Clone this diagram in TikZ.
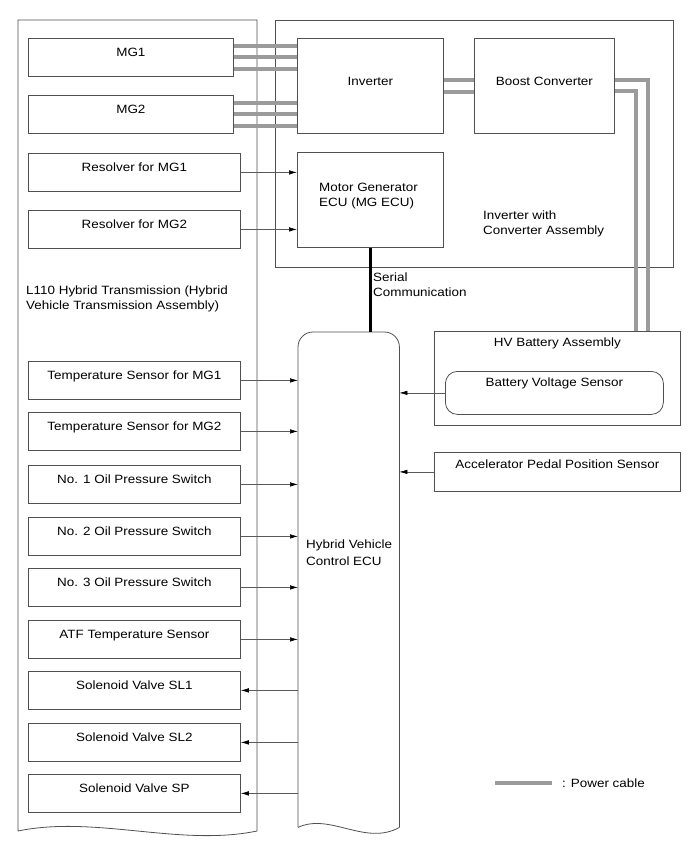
\documentclass[tikz,border=0pt]{standalone}
\usepackage{fontspec}
\setmainfont{Liberation Sans}[FakeStretch=1.12]
\usetikzlibrary{arrows.meta}

\definecolor{linegray}{HTML}{505050}
\definecolor{wiregray}{HTML}{5A5A5A}
\definecolor{cablegray}{HTML}{9B9B9B}

\tikzset{
  housing/.style={draw=linegray, line width=0.8pt},
  part/.style={housing, anchor=north west, inner sep=0pt, minimum height=38pt, text height=18.5pt, text depth=19.5pt},
  bigpart/.style={part, minimum height=95pt, text height=47pt, text depth=48pt},
  note/.style={anchor=north west, inner sep=0pt, align=left},
  sig/.style={draw=wiregray, line width=0.6pt, -{Latex[length=8pt, width=4.5pt, color=black]}},
  cable/.style={draw=cablegray, line width=4pt},
}

\begin{document}
\begin{tikzpicture}[x=1pt, y=-1pt, font=\fontsize{12}{14.5}\selectfont]
\useasboundingbox (0,0) rectangle (690,854);

% housings
\draw[housing] (18,831) -- (18,20) -- (257,20) -- (257,831) .. controls (180,847) and (95,815) .. (18,831);
\node (invassy) [housing, anchor=north west, inner sep=0pt, minimum width=398pt, minimum height=247pt] at (275,20) {};
\node (hvecu) [anchor=north west, inner sep=0pt, minimum width=101pt, minimum height=495pt] at (298,332) {};
\draw[housing, rounded corners=15pt] (hvecu.south west) -- (hvecu.north west) -- (hvecu.north east) -- (hvecu.south east);
\draw[housing] (hvecu.south west) .. controls +(32,-15) and +(-34,19) .. (hvecu.south east);

% transmission side
\node (mgone) [part, minimum width=205pt] at (28,38) {MG1};
\node (mgtwo) [part, minimum width=205pt] at (28,95) {MG2};
\node (resone) [part, minimum width=212pt] at (28,153) {Resolver for MG1};
\node (restwo) [part, minimum width=212pt] at (28,210) {Resolver for MG2};
\node (tempone) [part, minimum width=212pt] at (28,361) {Temperature Sensor for MG1};
\node (temptwo) [part, minimum width=212pt] at (28,412) {Temperature Sensor for MG2};
\node (oilone) [part, minimum width=212pt] at (28,465) {No. 1 Oil Pressure Switch};
\node (oiltwo) [part, minimum width=212pt] at (28,517) {No. 2 Oil Pressure Switch};
\node (oilthree) [part, minimum width=212pt] at (28,568) {No. 3 Oil Pressure Switch};
\node (atf) [part, minimum width=212pt] at (28,620) {ATF Temperature Sensor};
\node (slone) [part, minimum width=212pt] at (28,671) {Solenoid Valve SL1};
\node (sltwo) [part, minimum width=212pt] at (28,723) {Solenoid Valve SL2};
\node (sp) [part, minimum width=212pt] at (28,774) {Solenoid Valve SP};
\node (transtext) [note] at (26,286) {L110 Hybrid Transmission (Hybrid\\Vehicle Transmission Assembly)};

% inverter with converter
\node (inverter) [bigpart, minimum width=146pt] at (297,38) {Inverter};
\node (boost) [bigpart, minimum width=140pt] at (474,38) {Boost Converter};
\node (mgecu) [bigpart, minimum width=146pt] at (297,152) {};
\node (mgecutext) [note] at (319,183) {Motor Generator\\ECU (MG ECU)};
\node (invtext) [note] at (483,211) {Inverter with\\Converter Assembly};

% right side
\node (hvbat) [part, minimum width=246pt, minimum height=94pt, text height=15pt, text depth=79pt] at (434,331) {HV Battery Assembly};
\node (battsens) [part, rounded corners=12pt, minimum width=218pt, minimum height=43pt, text height=15pt, text depth=28pt] at (445,371) {Battery Voltage Sensor};
\node (accel) [part, minimum width=246pt, minimum height=39pt, text height=16pt, text depth=23pt] at (434,452) {Accelerator Pedal Position Sensor};
\node (hvecutext) [note] at (306,540) {Hybrid Vehicle\\[2pt]Control ECU};

% power cables
\draw[cable] ([yshift=11.5pt]mgone.east) -- ([yshift=11.5pt]mgone.east -| inverter.west);
\draw[cable] (mgone.east) -- (mgone.east -| inverter.west);
\draw[cable] ([yshift=-11.5pt]mgone.east) -- ([yshift=-11.5pt]mgone.east -| inverter.west);
\draw[cable] ([yshift=11.5pt]mgtwo.east) -- ([yshift=11.5pt]mgtwo.east -| inverter.west);
\draw[cable] (mgtwo.east) -- (mgtwo.east -| inverter.west);
\draw[cable] ([yshift=-11.5pt]mgtwo.east) -- ([yshift=-11.5pt]mgtwo.east -| inverter.west);
\draw[cable] ([yshift=6pt]inverter.east) -- ([yshift=6pt]inverter.east -| boost.west);
\draw[cable] ([yshift=-6pt]inverter.east) -- ([yshift=-6pt]inverter.east -| boost.west);
\draw[cable] ([yshift=5.5pt]boost.east) -| ([xshift=91pt]hvbat.north);
\draw[cable] ([yshift=-5.5pt]boost.east) -| ([xshift=79pt]hvbat.north);

% signals
\draw[line width=2.6pt] (mgecu.south) -- (mgecu.south |- hvecu.north);
\node (serialtext) [note] at (373,273) {Serial\\Communication};
\draw[sig] (resone.east) -- (resone.east -| mgecu.west);
\draw[sig] (restwo.east) -- (restwo.east -| mgecu.west);
\draw[sig] (tempone.east) -- (tempone.east -| hvecu.west);
\draw[sig] (temptwo.east) -- (temptwo.east -| hvecu.west);
\draw[sig] (oilone.east) -- (oilone.east -| hvecu.west);
\draw[sig] (oiltwo.east) -- (oiltwo.east -| hvecu.west);
\draw[sig] (oilthree.east) -- (oilthree.east -| hvecu.west);
\draw[sig] (atf.east) -- (atf.east -| hvecu.west);
\draw[sig] (slone.east -| hvecu.west) -- (slone.east);
\draw[sig] (sltwo.east -| hvecu.west) -- (sltwo.east);
\draw[sig] (sp.east -| hvecu.west) -- (sp.east);
\draw[sig] (battsens.west) -- (battsens.west -| hvecu.east);
\draw[sig] (accel.west) -- (accel.west -| hvecu.east);

% legend
\coordinate (keyl) at (495,783);
\coordinate (keyr) at (552,783);
\draw[cable] (keyl) -- (keyr);
\node (keytext) [anchor=west, inner sep=0pt] at ([xshift=10pt]keyr) {: Power cable};
\end{tikzpicture}
\end{document}
